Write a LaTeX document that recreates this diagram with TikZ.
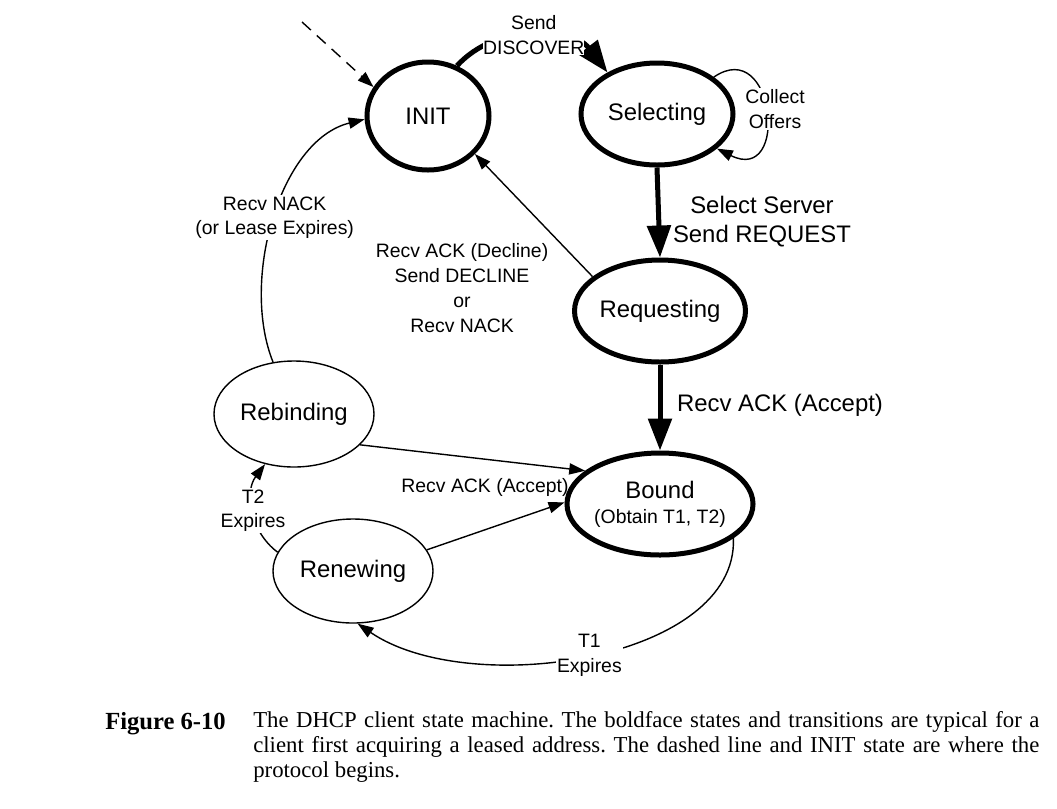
\documentclass[tikz,border=0pt]{standalone}
\usepackage{fontspec}
\setmainfont{Liberation Sans}
\newfontfamily\captionfont{Liberation Serif}
\usetikzlibrary{shapes.geometric,arrows.meta}

\tikzset{
  boldstate/.style={ellipse,draw,line width=1.25mm,inner sep=0pt,align=center,font=\fontsize{17}{20}\selectfont},
  thinstate/.style={ellipse,draw,line width=0.35mm,inner sep=0pt,align=center,font=\fontsize{17}{20}\selectfont},
  boldedge/.style={line width=1.25mm,-{Triangle[length=8mm,width=5.8mm]}},
  thinedge/.style={line width=0.35mm,-{Triangle[length=4mm,width=2.8mm]}},
  smalllabel/.style={font=\fontsize{13.8}{17.7}\selectfont,align=center},
  biglabel/.style={font=\fontsize{17}{20.5}\selectfont,align=center},
}

\begin{document}
\begin{tikzpicture}[x=0.25mm,y=-0.25mm]
\useasboundingbox (0,0) rectangle (1057,808);

% INIT node
\node[boldstate,minimum width=30.5mm,minimum height=27mm] (init) at (428,116) {INIT};

% Selecting node
\node[boldstate,minimum width=38mm,minimum height=25.5mm] (selecting) at (657,114) {Selecting};

% Requesting node
\node[boldstate,minimum width=40mm,minimum height=25.5mm] (requesting) at (660,311) {Requesting};

% Bound node
\node[boldstate,minimum width=39.5mm,minimum height=25.5mm] (bound) at (660,504)
  {Bound\\[-2pt]{\fontsize{13.8}{16}\selectfont (Obtain T1, T2)}};

% Rebinding node
\node[thinstate,minimum width=40mm,minimum height=26.5mm] (rebinding) at (294,414) {Rebinding};

% Renewing node
\node[thinstate,minimum width=40mm,minimum height=26mm] (renewing) at (353,571) {Renewing};

% where the protocol begins
\coordinate (start) at (302,22);
\draw[thinedge,dashed,dash pattern=on 3mm off 2mm] (start) -- (init.152);

% typical path
\draw[boldedge] (init.60) to [bend left=50]
  node[smalllabel,fill=white,inner sep=0pt] {Send\\DISCOVER} (selecting.140);
\draw[boldedge] (selecting.south) -- (requesting.north);
\draw[boldedge] (requesting.south) -- (bound.north);
\node[biglabel] (select server) at (762,222) {Select Server\\Send REQUEST};
\node[biglabel] (accept) at (780,405) {Recv ACK (Accept)};

% collect offers loop
\draw[thinedge] (selecting.33) .. controls (775,35) and (790,185) .. (selecting.-30);
\node[smalllabel,fill=white,inner sep=1pt] (collect) at (775,109) {Collect\\Offers};

% back to INIT
\draw[thinedge] (requesting.153) -- (init.-39);
\node[smalllabel] (decline) at (462,288) {Recv ACK (Decline)\\Send DECLINE\\or\\Recv NACK};
\draw[thinedge] (rebinding.112) .. controls (240,280) and (280,140) ..
  node[smalllabel,fill=white,inner sep=1pt] {Recv NACK\\(or Lease Expires)} (init.183);

% renew and rebind
\draw[thinedge] (bound.-25) .. controls (738,660) and (470,700) ..
  node[smalllabel,fill=white,inner sep=1pt] {T1\\Expires} (renewing.-85);
\draw[thinedge] (renewing.166) to [bend left=45]
  node[smalllabel,fill=white,inner sep=1pt] {T2\\Expires} (rebinding.-120);
\draw[thinedge] (rebinding.-25) -- (bound.156);
\draw[thinedge] (renewing.16) -- (bound.179);
\node[smalllabel] (accept small) at (485,487) {Recv ACK (Accept)};

% caption
\node[anchor=base west,inner sep=0pt,font=\captionfont\bfseries\fontsize{17.5}{18}\selectfont] (figure) at (105,729) {Figure 6-10};
\node[anchor=north west,inner sep=0pt,text width=196.5mm,align=justify,
  font=\captionfont\fontsize{16.2}{17.7}\selectfont\frenchspacing] (caption) at (253,711)
  {The DHCP client state machine. The boldface states and transitions are typical for a\linebreak
   client first acquiring a leased address. The dashed line and INIT state are where the\linebreak
   protocol begins.};

\end{tikzpicture}
\end{document}
